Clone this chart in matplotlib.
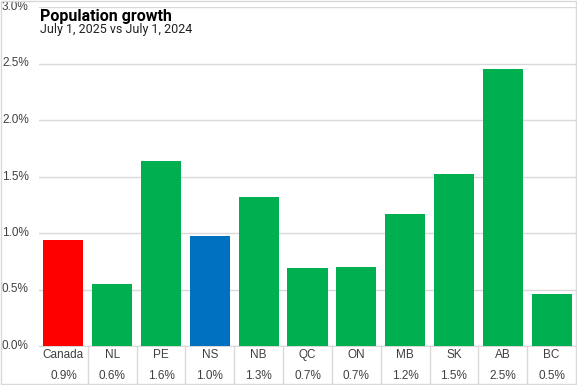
import matplotlib.pyplot as plt
from matplotlib.patches import Rectangle

regions = ['Canada', 'NL', 'PE', 'NS', 'NB', 'QC', 'ON', 'MB', 'SK', 'AB', 'BC']
growth = [0.94, 0.55, 1.64, 0.97, 1.32, 0.69, 0.70, 1.17, 1.52, 2.45, 0.46]
growth_labels = ['0.9%', '0.6%', '1.6%', '1.0%', '1.3%', '0.7%', '0.7%', '1.2%', '1.5%', '2.5%', '0.5%']
colors = ['#FF0000', '#00B050', '#00B050', '#0070C0', '#00B050', '#00B050',
          '#00B050', '#00B050', '#00B050', '#00B050', '#00B050']
yticks = [0, 0.5, 1.0, 1.5, 2.0, 2.5, 3.0]

plt.rcParams['font.family'] = ['Liberation Sans', 'DejaVu Sans']

fig = plt.figure(figsize=(5.77, 3.85), dpi=100)
ax = fig.add_axes([39 / 577, 1 - 346 / 385, 537 / 577, 339 / 385])

x = range(len(regions))
ax.bar(x, growth, width=0.82, color=colors, zorder=3)
ax.set_xlim(-0.5, len(regions) - 0.5)
ax.set_ylim(0, 3.0)
ax.set_yticks(yticks)
ax.tick_params(axis='y', length=0, labelleft=False)
ax.grid(axis='y', color='#D9D9D9', linewidth=1, zorder=0)
ax.set_xticks([])
for side in ['top', 'right', 'left']:
    ax.spines[side].set_visible(False)
ax.spines['bottom'].set_color('#D9D9D9')

# y tick labels, left aligned at the chart edge
ytrans = ax.get_yaxis_transform()
for t in yticks:
    ax.text(-37 / 537, t, f'{t:.1f}%', transform=ytrans, ha='left', va='center',
            fontsize=8.5, color='#404040')

# data table below the bars
trans = ax.get_xaxis_transform()
for i, (r, v) in enumerate(zip(regions, growth_labels)):
    ax.text(i, -0.027, r, transform=trans, ha='center', va='center', fontsize=8.5, color='#404040')
    ax.text(i, -0.089, v, transform=trans, ha='center', va='center', fontsize=8.5, color='#404040')
for k in range(len(regions) - 1):
    ax.plot([k + 0.5, k + 0.5], [0, -0.112], transform=trans, color='#D9D9D9',
            linewidth=1, clip_on=False)

fig.text(40 / 577, 1 - 16 / 385, 'Population growth', fontsize=11.5, fontweight='bold',
         family='Roboto', color='black', va='center')
fig.text(40 / 577, 1 - 30 / 385, 'July 1, 2025 vs July 1, 2024', fontsize=9,
         family='Roboto', color='#222222', va='center')

fig.patches.append(Rectangle((0.001, 0.002), 0.997, 0.996, transform=fig.transFigure,
                             fill=False, edgecolor='#D9D9D9', linewidth=1))

fig.savefig('out.png', dpi=100)
